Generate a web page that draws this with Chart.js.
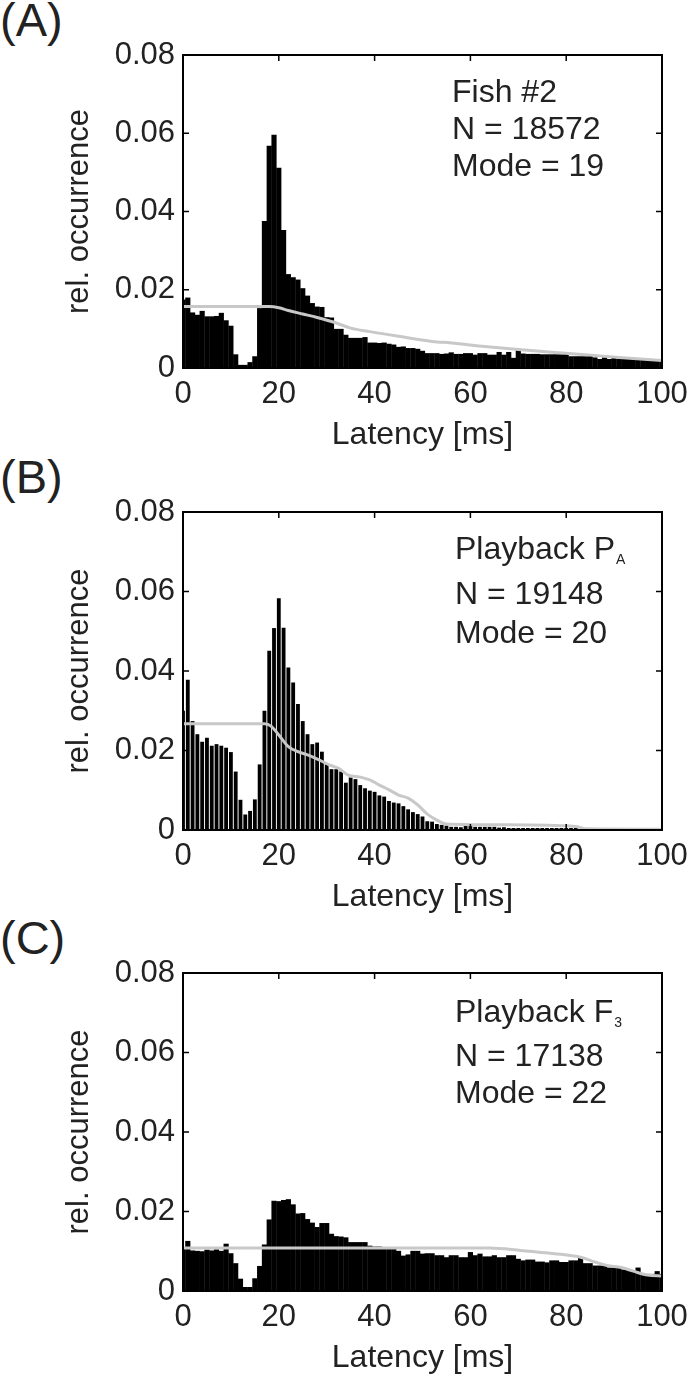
<!DOCTYPE html>
<html>
<head>
<meta charset="utf-8">
<script src="https://cdn.jsdelivr.net/npm/chart.js@4.4.1/dist/chart.umd.min.js"></script>
<style>
  html, body { margin: 0; padding: 0; background: #fff; overflow: hidden; }
  body { width: 700px; height: 1376px; position: relative; font-family: "Liberation Sans", Arial, sans-serif; color: #222; }
  .panel { position: absolute; left: 0; }
  .letter { position: absolute; left: 0; font-size: 47px; line-height: 47px; white-space: nowrap; }
  .note { position: absolute; font-size: 32px; white-space: nowrap; }
  .note sub { font-size: 14px; vertical-align: baseline; position: relative; top: 5px; margin-left: 1px; }
</style>
</head>
<body>

<div class="letter" style="top:-4px">(A)</div>
<div class="letter" style="top:453px">(B)</div>
<div class="letter" style="top:914px">(C)</div>

<div class="panel" style="top:0px"><canvas id="fishChart" width="700" height="460"></canvas></div>
<div class="panel" style="top:457px"><canvas id="paChart" width="700" height="465"></canvas></div>
<div class="panel" style="top:918px"><canvas id="f3Chart" width="700" height="465"></canvas></div>

<div class="note" style="left:452px; top:73px; line-height:37px">Fish #2<br>N = 18572<br>Mode = 19</div>
<div class="note" style="left:455px; top:529px; line-height:39px">Playback P<sub>A</sub><br>N = 19148<br>Mode = 20</div>
<div class="note" style="left:455px; top:993px; line-height:37.5px">Playback F<sub>3</sub><br>N = 17138<br>Mode = 22</div>

<script>
// latency bins (ms), one per 1 ms bin
const binCentres = [
  0, 1, 2, 3, 4, 5, 6, 7, 8, 9, 10, 11, 12, 13, 14, 15, 16, 17, 18, 19,
  20, 21, 22, 23, 24, 25, 26, 27, 28, 29, 30, 31, 32, 33, 34, 35, 36, 37, 38, 39,
  40, 41, 42, 43, 44, 45, 46, 47, 48, 49, 50, 51, 52, 53, 54, 55, 56, 57, 58, 59,
  60, 61, 62, 63, 64, 65, 66, 67, 68, 69, 70, 71, 72, 73, 74, 75, 76, 77, 78, 79,
  80, 81, 82, 83, 84, 85, 86, 87, 88, 89, 90, 91, 92, 93, 94, 95, 96, 97, 98, 99, 100
];

const xTicks = [0, 20, 40, 60, 80, 100];
const yTicks = [0, 0.02, 0.04, 0.06, 0.08];

// (A) Fish #2
const fishValues = [
  0.0175, 0.0180, 0.0142, 0.0136, 0.0146, 0.0132, 0.0132, 0.0133, 0.0141, 0.0122,
  0.0108, 0.0035, 0.0008, 0.0008, 0.0015, 0.0030, 0.0153, 0.0376, 0.0568, 0.0596,
  0.0512, 0.0353, 0.0240, 0.0232, 0.0226, 0.0204, 0.0185, 0.0166, 0.0157, 0.0156,
  0.0130, 0.0129, 0.0100, 0.0100, 0.0085, 0.0077, 0.0077, 0.0077, 0.0079, 0.0065,
  0.0065, 0.0064, 0.0065, 0.0062, 0.0060, 0.0054, 0.0055, 0.0051, 0.0051, 0.0049,
  0.0044, 0.0038, 0.0038, 0.0038, 0.0036, 0.0037, 0.0040, 0.0036, 0.0036, 0.0038,
  0.0038, 0.0034, 0.0038, 0.0038, 0.0034, 0.0034, 0.0041, 0.0034, 0.0041, 0.0026,
  0.0049, 0.0037, 0.0036, 0.0036, 0.0036, 0.0035, 0.0035, 0.0035, 0.0035, 0.0035,
  0.0037, 0.0030, 0.0030, 0.0030, 0.0030, 0.0032, 0.0027, 0.0023, 0.0027, 0.0023,
  0.0027, 0.0023, 0.0026, 0.0023, 0.0025, 0.0021, 0.0021, 0.0021, 0.0020, 0.0020,
  0.0020
];
const fishCurveX = [0, 18, 20, 22, 25, 28, 32, 35, 39, 45, 52, 56, 63, 70, 77, 84, 91, 100];
const fishCurveY = [0.0157, 0.0157, 0.0154, 0.0147, 0.0138, 0.0129, 0.0115, 0.0102, 0.0093,
                    0.0081, 0.0068, 0.0064, 0.0055, 0.0047, 0.0040, 0.0034, 0.0027, 0.0019];

// (B) Playback P_A
const paValues = [
  0.0300, 0.0378, 0.0274, 0.0241, 0.0222, 0.0232, 0.0212, 0.0216, 0.0212, 0.0207,
  0.0196, 0.0147, 0.0076, 0.0039, 0.0048, 0.0077, 0.0165, 0.0300, 0.0451, 0.0508,
  0.0583, 0.0509, 0.0409, 0.0371, 0.0317, 0.0274, 0.0241, 0.0216, 0.0220, 0.0197,
  0.0165, 0.0153, 0.0153, 0.0147, 0.0119, 0.0132, 0.0128, 0.0113, 0.0105, 0.0099,
  0.0096, 0.0087, 0.0084, 0.0073, 0.0069, 0.0067, 0.0060, 0.0052, 0.0045, 0.0040,
  0.0034, 0.0022, 0.0021, 0.0015, 0.0013, 0.0011, 0.0008, 0.0008, 0.0007, 0.0011,
  0.0011, 0.0008, 0.0008, 0.0008, 0.0008, 0.0008, 0.0006, 0.0007, 0.0005, 0.0005,
  0.0005, 0.0005, 0.0005, 0.0005, 0.0005, 0.0005, 0.0005, 0.0005, 0.0005, 0.0005,
  0.0005, 0.0005, 0.0005, 0.0003, 0.0001, 0.0001, 0.0001, 0.0001, 0.0001, 0.0001,
  0.0001, 0.0001, 0.0001, 0.0001, 0.0001, 0.0001, 0.0001, 0.0001, 0.0001, 0.0001,
  0.0001
];
const paCurveX = [0, 17, 18.5, 20, 22, 24, 26, 28.5, 30.5, 32.5, 34.5, 37, 39, 41, 43, 45, 47, 49,
                  51, 53, 55, 67, 82, 84, 100];
const paCurveY = [0.0267, 0.0267, 0.0260, 0.0239, 0.0210, 0.0197, 0.0189, 0.0176, 0.0164, 0.0155,
                  0.0138, 0.0133, 0.0126, 0.0113, 0.0101, 0.0088, 0.0080, 0.0063, 0.0040, 0.0025,
                  0.0015, 0.0013, 0.0009, 0.0003, 0.0002];

// (C) Playback F_3
const f3Values = [
  0.0110, 0.0126, 0.0102, 0.0101, 0.0100, 0.0104, 0.0102, 0.0105, 0.0101, 0.0119,
  0.0095, 0.0070, 0.0031, 0.0010, 0.0010, 0.0032, 0.0063, 0.0117, 0.0180, 0.0227,
  0.0226, 0.0229, 0.0231, 0.0218, 0.0195, 0.0196, 0.0181, 0.0172, 0.0161, 0.0171,
  0.0171, 0.0144, 0.0138, 0.0137, 0.0135, 0.0123, 0.0123, 0.0123, 0.0123, 0.0114,
  0.0112, 0.0112, 0.0110, 0.0108, 0.0106, 0.0101, 0.0089, 0.0092, 0.0101, 0.0101,
  0.0094, 0.0095, 0.0095, 0.0090, 0.0090, 0.0085, 0.0090, 0.0090, 0.0085, 0.0085,
  0.0098, 0.0090, 0.0094, 0.0087, 0.0087, 0.0090, 0.0085, 0.0085, 0.0090, 0.0090,
  0.0081, 0.0077, 0.0079, 0.0079, 0.0074, 0.0074, 0.0072, 0.0077, 0.0077, 0.0073,
  0.0073, 0.0077, 0.0077, 0.0085, 0.0070, 0.0070, 0.0064, 0.0064, 0.0064, 0.0059,
  0.0059, 0.0059, 0.0054, 0.0054, 0.0048, 0.0059, 0.0043, 0.0043, 0.0043, 0.0050,
  0.0043
];
const f3CurveX = [0, 64, 70.5, 77.5, 83, 86, 88.5, 91.5, 94, 97, 100];
const f3CurveY = [0.0108, 0.0108, 0.0102, 0.0094, 0.0085, 0.0073, 0.0064, 0.0059, 0.0050, 0.0040, 0.0038];

Chart.defaults.font.family = '"Liberation Sans", Arial, sans-serif';
Chart.defaults.color = '#222';

// matlab style box with inward tick marks
const boxFrame = {
  id: 'boxFrame',
  afterDatasetsDraw(chart) {
    const { ctx, chartArea: a, scales: { x, y } } = chart;
    ctx.save();
    ctx.strokeStyle = '#000';
    ctx.lineWidth = 2;
    ctx.strokeRect(a.left, a.top, a.right - a.left, a.bottom - a.top);
    ctx.lineWidth = 1.5;
    ctx.beginPath();
    x.ticks.forEach(t => {
      const px = x.getPixelForValue(t.value);
      ctx.moveTo(px, a.top); ctx.lineTo(px, a.top + 6);
      ctx.moveTo(px, a.bottom); ctx.lineTo(px, a.bottom - 6);
    });
    y.ticks.forEach(t => {
      const py = y.getPixelForValue(t.value);
      ctx.moveTo(a.left, py); ctx.lineTo(a.left + 6, py);
      ctx.moveTo(a.right, py); ctx.lineTo(a.right - 6, py);
    });
    ctx.stroke();
    ctx.restore();
  }
};

function drawPanel(canvasId, values, curveX, curveY, separated) {
  const bars = binCentres.map((b, i) => ({ x: b, y: values[i] }));
  const curve = curveX.map((cx, i) => ({ x: cx, y: curveY[i] }));

  new Chart(document.getElementById(canvasId), {
    type: 'bar',
    data: {
      datasets: [
        {
          type: 'line',
          data: curve,
          borderColor: '#c8c8c8',
          borderWidth: 3,
          pointRadius: 0,
          cubicInterpolationMode: 'monotone',
          fill: false
        },
        {
          data: bars,
          backgroundColor: '#000',
          borderWidth: 0,
          barPercentage: separated ? 0.8 : 1.08,
          categoryPercentage: 1,
          grouped: false
        }
      ]
    },
    options: {
      responsive: false,
      animation: false,
      layout: { padding: { top: 55, right: 38, left: 0, bottom: 0 } },
      plugins: { legend: { display: false }, tooltip: { enabled: false } },
      scales: {
        x: {
          type: 'linear',
          min: 0,
          max: 100,
          offset: false,
          grid: { display: false, drawTicks: false },
          border: { display: false },
          afterBuildTicks: s => { s.ticks = xTicks.map(v => ({ value: v })); },
          afterFit: s => { s.height = 92; },
          ticks: { font: { size: 31 }, padding: 8, maxRotation: 0, autoSkip: false },
          title: { display: true, text: 'Latency [ms]', font: { size: 32 }, padding: { top: 0, bottom: 6 } }
        },
        y: {
          min: 0,
          max: 0.08,
          grid: { display: false, drawTicks: false },
          border: { display: false },
          afterBuildTicks: s => { s.ticks = yTicks.map(v => ({ value: v })); },
          afterFit: s => { s.width = 183; },
          ticks: {
            font: { size: 31 },
            padding: 8,
            callback: v => (v === 0 ? '0' : v.toFixed(2))
          },
          title: { display: true, text: 'rel. occurrence', font: { size: 31 }, padding: { top: 61, bottom: 0 } }
        }
      }
    },
    plugins: [boxFrame]
  });
}

drawPanel('fishChart', fishValues, fishCurveX, fishCurveY, false);
drawPanel('paChart', paValues, paCurveX, paCurveY, true);
drawPanel('f3Chart', f3Values, f3CurveX, f3CurveY, false);
</script>
</body>
</html>
